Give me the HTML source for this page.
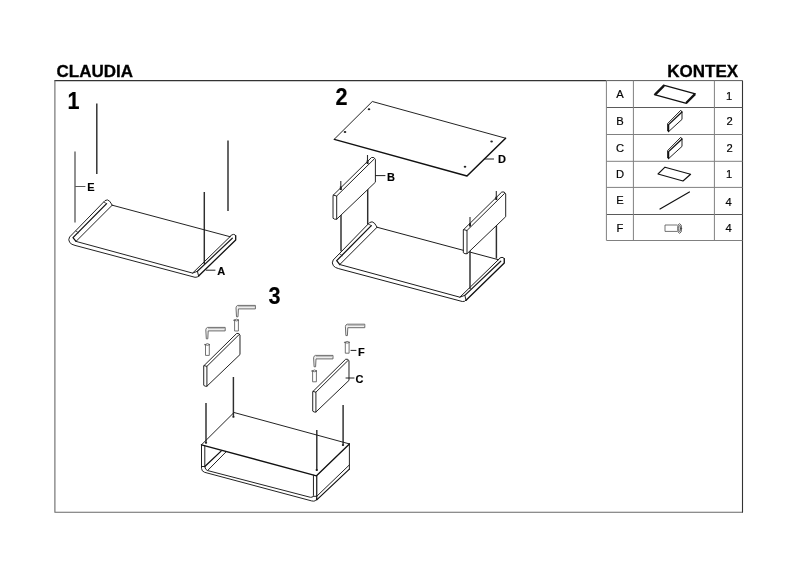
<!DOCTYPE html>
<html>
<head>
<meta charset="utf-8">
<title>CLAUDIA</title>
<style>
html,body{margin:0;padding:0;background:#fff;}
body{width:800px;height:565px;overflow:hidden;}
svg{display:block;filter:grayscale(1);}
text{font-family:"Liberation Sans",sans-serif;fill:#000;}
.t{font-weight:bold;font-size:17px;stroke:#000;stroke-width:0.3px;}
.n{font-weight:bold;font-size:24px;stroke:#000;stroke-width:0.2px;}
.l{font-weight:bold;font-size:11px;stroke:#000;stroke-width:0.15px;}
.c{font-size:11.2px;fill:#111;stroke:#111;stroke-width:0.2px;}
.ln{stroke:#1c1c1c;stroke-width:0.97;fill:none;stroke-linecap:round;stroke-linejoin:round;}
.th{stroke:#333;stroke-width:0.8;fill:none;stroke-linecap:round;stroke-linejoin:round;}
.bd{stroke:#111;stroke-width:1.3;fill:none;stroke-linecap:round;stroke-linejoin:round;}
.rod{stroke:#2e2e2e;stroke-width:1.45;fill:none;}
.pf{fill:#fff;stroke:none;}
.ps .ln{vector-effect:non-scaling-stroke;}
.g{stroke:#5a5a5a;stroke-width:0.85;fill:none;stroke-linecap:round;stroke-linejoin:round;}
.k{stroke:#5c5c5c;stroke-width:0.9;fill:#f2f2f2;stroke-linejoin:round;}
.k2{stroke:#aaa;stroke-width:0.8;fill:none;}
.fr{stroke:#333;stroke-width:1.1;fill:none;}
.fr2{stroke:#686868;stroke-width:1.1;fill:none;}
.tb{stroke:#5a5a5a;stroke-width:1;fill:none;}
.tb2{stroke:#808080;stroke-width:1;fill:none;}
</style>
</head>
<body>
<svg width="800" height="565" viewBox="0 0 800 565">
<rect width="800" height="565" fill="#fff"/>
<g>
<!-- titles -->
<text class="t" x="56.5" y="77">CLAUDIA</text>
<text class="t" x="667.3" y="77.1">KONTEX</text>
<!-- frame -->
<g id="frame">
<path class="fr" d="M54.4 80.6H606.5"/><path class="fr2" d="M54.9 80.6V512.2M54.4 512.2H743"/><path class="fr" d="M742.5 80.6V512.6"/>
</g>
<!-- table -->
<g id="table">
<path class="tb" d="M606.5 80.6H742.5M606.5 107.5H742.5M606.5 214.5H742.5"/>
<path class="tb2" d="M606.5 134.5H742.5M606.5 161.3H742.5M606.5 187.4H742.5M606.5 240.5H742.5M606.4 80.6V240.5M633.4 80.6V240.5M714.4 80.6V240.5"/>
<g class="c" text-anchor="middle">
<text x="620" y="97.5">A</text>
<text x="620" y="125">B</text>
<text x="620" y="152.4">C</text>
<text x="620" y="178">D</text>
<text x="620" y="204.4">E</text>
<text x="620" y="232">F</text>
<text x="729" y="99.6">1</text>
<text x="729.5" y="125.4">2</text>
<text x="729.5" y="152.4">2</text>
<text x="729" y="177.6">1</text>
<text x="728.5" y="205.6">4</text>
<text x="728.5" y="232.4">4</text>
</g>
</g>
<!-- step numbers -->
<text class="n" transform="translate(67.6 109) scale(0.9 1)">1</text>
<text class="n" transform="translate(335.4 105) scale(0.9 1)">2</text>
<text class="n" transform="translate(268.6 304.2) scale(0.9 1)">3</text>

<!-- STEP 1 -->
<g id="step1">
<path class="rod" style="stroke:#555;stroke-width:1.3" d="M75 151.5V222.5"/><path class="rod" d="M96.8 103.5V174M204.3 192V264M228 140.5V211"/>
<g id="baseA">
<path class="ln" d="M112.2 205.2L230 236.7"/>
<path class="ln" d="M112.2 205.2Q111 203 109.6 201.2Q107.5 198.9 105 200.6L69.6 237Q67.8 239.8 69.8 242.6Q71.5 244.6 75 245.4L195 277.3Q197.5 277.6 198.6 276"/>
<path class="bd" style="stroke-width:1.25" d="M106.6 203.6L73 237.6L76 241.4"/>
<path class="th" d="M75.8 231L78.5 232.8M104 202.2L106.6 203.6"/>
<path class="ln" d="M112.2 205.2L76 241.4L192.6 273.1L230 236.7"/>
<path class="ln" d="M192.6 273.1L197.4 271.3L198.6 276"/>
<path class="ln" style="stroke-width:1.2" d="M197.4 271.3L232.3 238.2"/>
<path class="bd" style="stroke-width:1.3" d="M198.6 276L235.7 240V235.6"/>
<path class="ln" d="M230 236.7Q231 234.4 233.5 234.4Q235.5 234.6 235.7 235.6"/>
</g>
<path class="ln" style="stroke:#555" d="M75.5 186.5H85"/>
<text class="l" x="87.2" y="191">E</text>
<path class="ln" d="M206.3 270.2H215"/>
<text class="l" x="217.2" y="275.2">A</text>
</g>

<!-- STEP 2 -->
<g id="step2">
<path class="ln" d="M334.3 139.2L372.3 101.5L505.5 138.2"/>
<path class="bd" style="stroke-width:1.5" d="M334.3 139.4L467 176L505.6 138.3"/>
<ellipse cx="369" cy="109.2" rx="1.3" ry="1" fill="#222"/>
<ellipse cx="345" cy="131.9" rx="1.3" ry="1" fill="#222"/>
<ellipse cx="491.6" cy="141.5" rx="1.3" ry="1" fill="#222"/>
<ellipse cx="465" cy="166.8" rx="1.3" ry="1" fill="#222"/>
<use href="#baseA" transform="matrix(1.03 0 0 1.03 261.5 15.9)"/>
<path class="rod" d="M341 214V251.2M367.7 188V224.6M470 249V289M496.4 222V258.4"/>
<g class="ps" transform="translate(333.30 195.10) scale(1.0) translate(-333.3 -195.1)"><path class="pf" d="M333.3 195.1L371.5 157.5Q374.3 156.6 375.4 159.4V182.2L336.7 219.2Q334.5 219.7 333.3 218.5Z"/><path class="ln" d="M333.3 195.1L371.5 157.5Q374.3 156.6 375.4 159.4V182.2L336.7 219.2Q334.5 219.7 333.3 218.5Z"/><path class="ln" d="M333.3 195.1L336.7 196V219.2M336.7 196L374.2 159"/></g><g class="ps" transform="translate(463.60 229.60) scale(1.0) translate(-333.3 -195.1)"><path class="pf" d="M333.3 195.1L371.5 157.5Q374.3 156.6 375.4 159.4V182.2L336.7 219.2Q334.5 219.7 333.3 218.5Z"/><path class="ln" d="M333.3 195.1L371.5 157.5Q374.3 156.6 375.4 159.4V182.2L336.7 219.2Q334.5 219.7 333.3 218.5Z"/><path class="ln" d="M333.3 195.1L336.7 196V219.2M336.7 196L374.2 159"/></g>
<path class="rod" style="stroke-width:1.1" d="M340.8 181.1V189.8M367.5 155.1V163.8M470 217.1V226.3M496.3 191.1V199.8"/>
<path class="rod" style="stroke-width:1.9;stroke:#222" d="M340.8 186.6V190M367.6 160.6V164M470 223V226.5M496.3 196.8V200"/>
<path class="ln" d="M375.5 175.6H385M485 159H493.6"/>
<text class="l" x="387" y="181">B</text>
<text class="l" x="498" y="163">D</text>
</g>
<!-- STEP 3 -->
<g id="step3">
<path class="k" d="M207.6 327.4H225.2V330.9H208.2L207.8 338.8H206.3L205.8 329.8Q206.0 327.8 207.6 327.4Z"/><path class="k2" d="M208.0 328.6H224.9"/><path class="k" d="M237.8 305.4H255.4V308.9H238.4L238.0 316.8H236.5L236 307.8Q236.2 305.8 237.8 305.4Z"/><path class="k2" d="M238.2 306.6H255.1"/><path class="k" d="M315.4 355.4H333.0V358.9H316.0L315.6 366.8H314.1L313.6 357.8Q313.8 355.8 315.4 355.4Z"/><path class="k2" d="M315.8 356.6H332.7"/><path class="k" d="M347.2 324.2H364.8V327.7H347.8L347.4 335.6H345.9L345.4 326.6Q345.6 324.6 347.2 324.2Z"/><path class="k2" d="M347.6 325.4H364.5"/>
<path class="g" d="M205.5 344.4V355.4H209.3V344.4"/><path class="g" d="M204.9 344.6Q207.4 342.4 209.9 344.6Q207.4 346.2 204.9 344.6Z"/><path class="g" d="M234.6 320.0V331.0H238.4V320.0"/><path class="g" d="M234.0 320.2Q236.5 318.0 239.0 320.2Q236.5 321.8 234.0 320.2Z"/><path class="g" d="M312.6 370.8V381.8H316.4V370.8"/><path class="g" d="M312.0 371Q314.5 368.8 317 371Q314.5 372.6 312.0 371Z"/><path class="g" d="M345.3 342.2V353.2H349.1V342.2"/><path class="g" d="M344.7 342.4Q347.2 340.2 349.7 342.4Q347.2 344.0 344.7 342.4Z"/>
<g class="ps" transform="translate(204.00 365.60) scale(0.855) translate(-333.3 -195.1)"><path class="pf" d="M333.3 195.1L371.5 157.5Q374.3 156.6 375.4 159.4V182.2L336.7 219.2Q334.5 219.7 333.3 218.5Z"/><path class="ln" d="M333.3 195.1L371.5 157.5Q374.3 156.6 375.4 159.4V182.2L336.7 219.2Q334.5 219.7 333.3 218.5Z"/><path class="ln" d="M333.3 195.1L336.7 196V219.2M336.7 196L374.2 159"/></g><g class="ps" transform="translate(313.00 391.40) scale(0.855) translate(-333.3 -195.1)"><path class="pf" d="M333.3 195.1L371.5 157.5Q374.3 156.6 375.4 159.4V182.2L336.7 219.2Q334.5 219.7 333.3 218.5Z"/><path class="ln" d="M333.3 195.1L371.5 157.5Q374.3 156.6 375.4 159.4V182.2L336.7 219.2Q334.5 219.7 333.3 218.5Z"/><path class="ln" d="M333.3 195.1L336.7 196V219.2M336.7 196L374.2 159"/></g>
<path class="rod" d="M206 403V442.4M233.4 377V416M316.8 430V469.6M343.1 405V444"/>
<ellipse cx="206" cy="442.8" rx="1.2" ry="0.9" fill="#111"/>
<ellipse cx="233.4" cy="416.8" rx="1.2" ry="0.9" fill="#111"/>
<ellipse cx="316.8" cy="470" rx="1.2" ry="0.9" fill="#111"/>
<ellipse cx="343" cy="445" rx="1.2" ry="0.9" fill="#111"/>
<path class="ln" d="M201.5 444.8L234 412.5L349.4 443.9"/>
<path class="bd" style="stroke-width:1.35" d="M201.5 444.8L316.5 475.8L349.4 443.9"/>
<path class="ln" d="M201.5 444.8V468.4Q201.7 471.4 204.6 472.3L311.6 500.9Q316.2 502 316.75 498.6"/>
<path class="ln" d="M204.8 446V466.5M201.5 466.5H204.8Q205.2 469.8 207.4 470.5L310.4 497.3Q313.2 497.8 313.45 495.4V475.2M313.45 496.3H316.75"/>
<path class="bd" style="stroke-width:1.2" d="M316.75 475.8V499.6"/>
<path class="bd" d="M204.8 466.5L221.1 451.1"/>
<path class="ln" d="M207.8 470.3L225.9 452"/>
<path class="ln" d="M349.4 443.9V469.1M316.75 496.3L349.4 464.9"/>
<path class="bd" style="stroke-width:1.2" d="M316.75 499.9L349.4 469.1"/>
<path class="ln" d="M351 350.4H356M346 378H354"/>
<text class="l" x="358" y="355.9">F</text>
<text class="l" x="355.4" y="382.9">C</text>
</g>
<!-- ICONS -->
<g id="icons">
<path class="bd" style="stroke-width:2.4;stroke-linecap:butt" d="M655 94.6L664 85.6M686.2 103L695 94.2"/>
<path class="bd" style="stroke-width:1.2" d="M663.4 85.2L695.4 93.8M654.4 94.6L686.4 103.4"/>
<path class="ln" d="M667.6 124.0V131.0L668.6 131.6L682.0 119.4V112.0L681.0 110.6Z"/><path class="bd" d="M668.6 131.6V124.6L682.0 112.0"/><path class="ln" d="M667.6 151.0V158.0L668.6 158.6L682.0 146.4V139.0L681.0 137.6Z"/><path class="bd" d="M668.6 158.6V151.6L682.0 139.0"/>
<path class="bd" style="stroke-width:1.15" d="M658 174L665 167.2L690.6 174.2L683 181Z"/>
<path class="bd" style="stroke-width:1.2" d="M660 209L689.4 192"/>
<path class="g" d="M677 225H665V231.4H677"/><ellipse class="g" style="stroke:#444" cx="679.6" cy="228.5" rx="2" ry="4.8"/><ellipse class="g" style="stroke:#444" cx="679.6" cy="228.5" rx="0.9" ry="3"/>
</g>
</g>
</svg>
</body>
</html>
